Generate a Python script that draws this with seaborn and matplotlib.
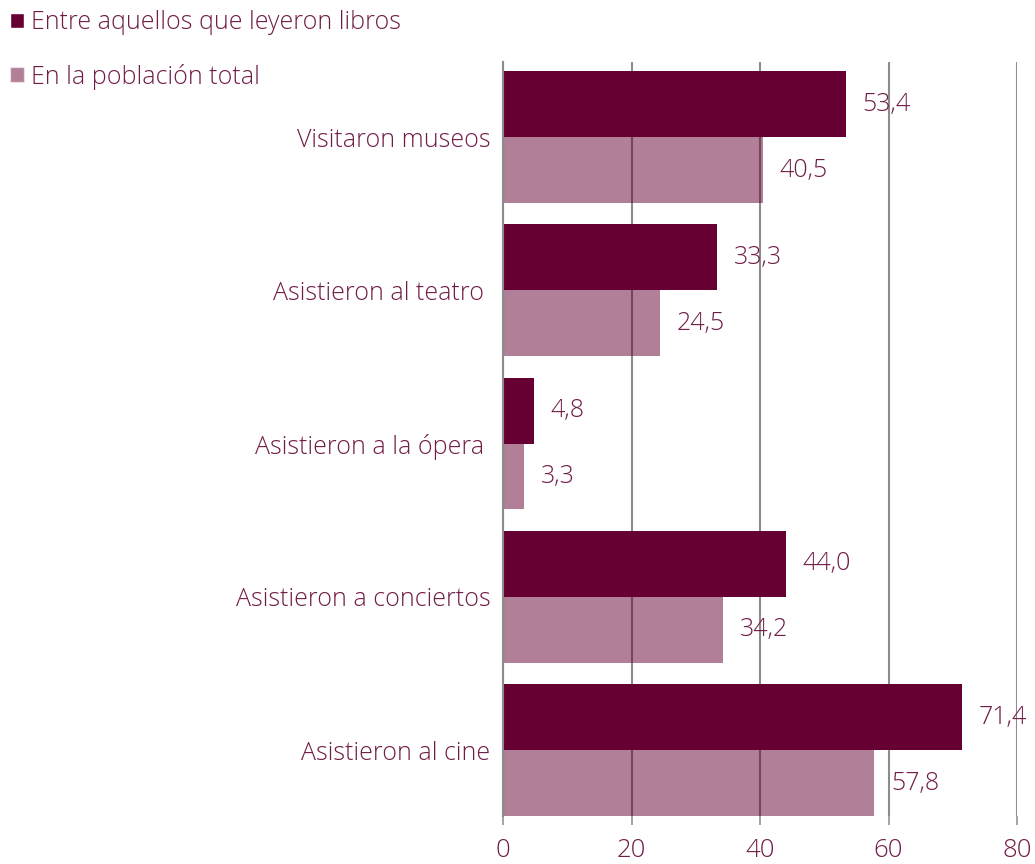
import pandas as pd
import matplotlib
matplotlib.use('Agg')
from matplotlib import pyplot as plt
from matplotlib.patches import Patch
import seaborn as sns

categories = ['Visitaron museos', 'Asistieron al teatro ', 'Asistieron a la ópera ',
              'Asistieron a conciertos', 'Asistieron al cine']
lectores = [53.4, 33.3, 4.8, 44.0, 71.4]
poblacion = [40.5, 24.5, 3.3, 34.2, 57.8]
series_names = ['Entre aquellos que leyeron libros', 'En la población total']
x_ticks = [0, 20, 40, 60, 80]

wine = '#660033'
text_color = '#701c48'
grid_color = '#8c8c8c'

df = pd.DataFrame({
    'actividad': categories * 2,
    'valor': lectores + poblacion,
    'grupo': [series_names[0]] * len(categories) + [series_names[1]] * len(categories),
})

sns.set_style('white')
plt.rcParams['font.family'] = ['Open Sans', 'DejaVu Sans']
plt.rcParams['font.weight'] = 'light'

fig = plt.figure(figsize=(10.35, 8.64), dpi=100)
ax = fig.add_axes([503 / 1035, 1 - 816 / 864, (1017 - 503) / 1035, (816 - 62) / 864])

sns.barplot(data=df, y='actividad', x='valor', hue='grupo', order=categories,
            hue_order=series_names, palette=[wine, wine], saturation=1,
            width=0.86, linewidth=0, orient='h', ax=ax, legend=False)

# the second series is the same colour, half transparent
for bar in ax.containers[1]:
    bar.set_alpha(0.5)

for cont, vals in zip(ax.containers, [lectores, poblacion]):
    ax.bar_label(cont, labels=[f'{v:.1f}'.replace('.', ',') for v in vals],
                 padding=12, color=text_color, fontsize=18)

ax.set_xlim(0, 80)
ax.set_ylim(4.43, -0.49)
ax.set_xticks(x_ticks)
ax.xaxis.grid(True, color=grid_color, linewidth=1.5)
ax.yaxis.grid(False)
ax.set_axisbelow(True)
ax.tick_params(axis='x', direction='out', length=6.5, width=1.1, color=grid_color,
               pad=9, labelsize=18.5, labelcolor=text_color, bottom=True)
ax.tick_params(axis='y', length=0, pad=9, labelsize=18, labelcolor=text_color)
ax.set_xlabel('')
ax.set_ylabel('')
for side in ['top', 'right', 'bottom']:
    ax.spines[side].set_visible(False)
ax.spines['left'].set_color(grid_color)
ax.spines['left'].set_linewidth(1.5)

handles = [Patch(facecolor=wine), Patch(facecolor=wine, alpha=0.5)]
fig.legend(handles, series_names, loc='upper left', bbox_to_anchor=(0.0, 1.0),
           frameon=False, fontsize=18, labelcolor=text_color,
           handlelength=0.55, handleheight=0.55, handletextpad=0.3,
           labelspacing=1.15, borderpad=0.2, borderaxespad=0.2)

plt.savefig('out.png', dpi=100)
